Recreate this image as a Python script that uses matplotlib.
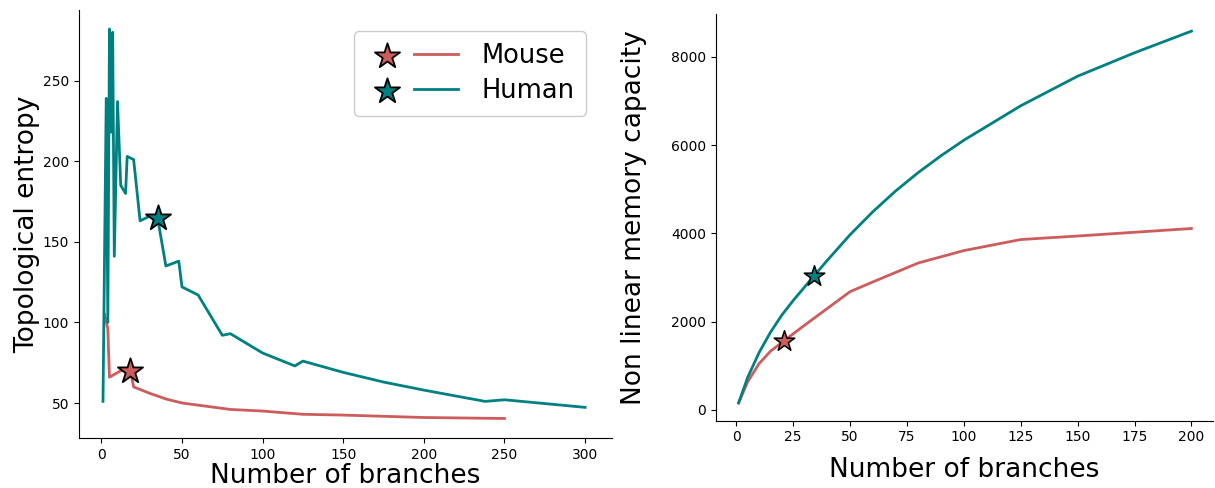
import matplotlib
matplotlib.use("Agg")
import matplotlib.pyplot as plt
from matplotlib.legend_handler import HandlerTuple

RED = "#cd5c5c"
TEAL = "#008080"

# left panel: topological entropy vs number of branches
human_branches = [1, 3, 4, 5, 6, 7, 8, 10, 12, 15, 16, 20, 24, 30, 35, 40, 48, 50,
                  60, 75, 80, 100, 120, 125, 150, 175, 200, 238, 250, 300]
human_entropy = [51, 239, 100, 282, 218, 280, 141, 237, 185, 180, 203, 201, 163, 166, 164,
                 135, 138, 122, 117, 92, 93, 81, 73, 76, 69, 63, 58, 51, 52, 47.3]
mouse_branches = [2, 4, 5, 12, 18, 20, 30, 40, 50, 80, 100, 125, 150, 200, 250]
mouse_entropy = [105, 96, 66, 70, 70, 60, 56, 52.5, 50, 46, 45, 43, 42.5, 41, 40.4]
mouse_star = (18, 70)
human_star = (35, 165)

# right panel: non linear memory capacity vs number of branches
cap_branches_h = [1, 5, 10, 15, 20, 25, 34, 40, 50, 60, 70, 80, 90, 100, 125, 150, 175, 200]
cap_human = [160, 740, 1300, 1760, 2150, 2480, 3030, 3390, 3970, 4490, 4960, 5380, 5760,
             6110, 6890, 7560, 8090, 8580]
cap_branches_m = [1, 5, 10, 15, 21, 30, 40, 50, 60, 80, 100, 125, 150, 200]
cap_mouse = [160, 640, 1050, 1330, 1570, 1920, 2300, 2680, 2900, 3330, 3610, 3860, 3940, 4110]
cap_mouse_star = (21, 1570)
cap_human_star = (34, 3030)

fig = plt.figure(figsize=(12.15, 4.88), dpi=100)
ax1 = fig.add_axes([0.065, 0.1025, 0.4387, 0.877])
ax2 = fig.add_axes([0.589, 0.138, 0.409, 0.833])

l_m, = ax1.plot(mouse_branches, mouse_entropy, color=RED, lw=2)
l_h, = ax1.plot(human_branches, human_entropy, color=TEAL, lw=2)
s_m = ax1.scatter(*mouse_star, marker="*", s=360, color=RED, edgecolor="black", linewidth=1.3, zorder=5)
s_h = ax1.scatter(*human_star, marker="*", s=360, color=TEAL, edgecolor="black", linewidth=1.3, zorder=5)
ax1.set_xlim(-13.9, 316.7)
ax1.set_ylim(28.3, 293.8)
ax1.set_xticks([0, 50, 100, 150, 200, 250, 300])
ax1.set_yticks([50, 100, 150, 200, 250])
ax1.set_xlabel("Number of branches", fontsize=19, labelpad=1)
ax1.set_ylabel("Topological entropy", fontsize=19, labelpad=2)
ax1.legend([(s_m, l_m), (s_h, l_h)], ["Mouse", "Human"],
           handler_map={tuple: HandlerTuple(ndivide=None, pad=0.2)},
           handlelength=3.6, fontsize=18.5, loc="upper right",
           bbox_to_anchor=(0.975, 0.98), borderpad=0.45, labelspacing=0.35,
           handletextpad=0.9, framealpha=1, edgecolor="#cccccc")

ax2.plot(cap_branches_m, cap_mouse, color=RED, lw=2)
ax2.plot(cap_branches_h, cap_human, color=TEAL, lw=2)
ax2.scatter(*cap_mouse_star, marker="*", s=240, color=RED, edgecolor="black", linewidth=1.1, zorder=5)
ax2.scatter(*cap_human_star, marker="*", s=240, color=TEAL, edgecolor="black", linewidth=1.1, zorder=5)
ax2.set_xlim(-9.1, 209.3)
ax2.set_ylim(-242, 8965)
ax2.set_xticks([0, 25, 50, 75, 100, 125, 150, 175, 200])
ax2.set_yticks([0, 2000, 4000, 6000, 8000])
ax2.set_xlabel("Number of branches", fontsize=19, labelpad=9)
ax2.set_ylabel("Non linear memory capacity", fontsize=19, labelpad=17)

for ax in (ax1, ax2):
    ax.spines["top"].set_visible(False)
    ax.spines["right"].set_visible(False)
    ax.tick_params(labelsize=10)

fig.savefig("out.png", dpi=100)
